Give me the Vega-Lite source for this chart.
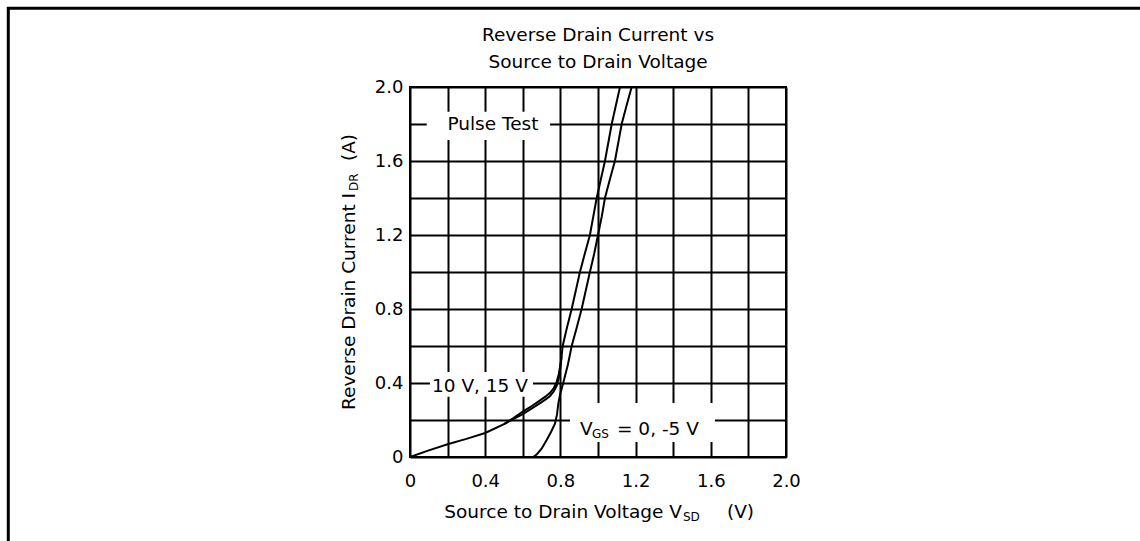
{
  "$schema": "https://vega.github.io/schema/vega-lite/v6.json",
  "width": 376,
  "height": 370,
  "autosize": {"type": "none"},
  "padding": {"left": 410, "top": 87, "right": 354, "bottom": 84},
  "background": "white",
  "config": {
    "view": {"stroke": "black", "strokeWidth": 2},
    "font": "DejaVu Sans",
    "text": {"font": "DejaVu Sans", "color": "black"}
  },
  "encoding": {
    "x": {
      "field": "x", "type": "quantitative",
      "scale": {"domain": [0, 2], "nice": false, "zero": false},
      "axis": {
        "values": [0, 0.2, 0.4, 0.6, 0.8, 1.0, 1.2, 1.4, 1.6, 1.8, 2.0],
        "grid": true, "gridColor": "black", "gridWidth": 2, "gridOpacity": 1,
        "domain": false, "ticks": false,
        "labelExpr": "round(datum.value*10) % 4 == 0 ? (datum.value == 0 ? '0' : format(datum.value, '.1f')) : ''",
        "labelFont": "DejaVu Sans", "labelFontSize": 18, "labelColor": "black",
        "labelPadding": 15, "labelFlush": false, "labelOverlap": false,
        "title": null
      }
    },
    "y": {
      "field": "y", "type": "quantitative",
      "scale": {"domain": [0, 2], "nice": false, "zero": false},
      "axis": {
        "values": [0, 0.2, 0.4, 0.6, 0.8, 1.0, 1.2, 1.4, 1.6, 1.8, 2.0],
        "grid": true, "gridColor": "black", "gridWidth": 2, "gridOpacity": 1,
        "domain": false, "ticks": false,
        "labelExpr": "round(datum.value*10) % 4 == 0 ? (datum.value == 0 ? '0' : format(datum.value, '.1f')) : ''",
        "labelFont": "DejaVu Sans", "labelFontSize": 18, "labelColor": "black",
        "labelPadding": 7, "labelFlush": false, "labelOverlap": false,
        "title": null
      }
    }
  },
  "layer": [
    {
      "data": {"values": [
        {"x": 0.089, "x2": 0.745, "y": 1.714, "y2": 1.866},
        {"x": 0.106, "x2": 0.654, "y": 0.326, "y2": 0.459},
        {"x": 0.851, "x2": 1.622, "y": 0.081, "y2": 0.292}
      ]},
      "mark": {"type": "rect", "fill": "white"},
      "encoding": {
        "x2": {"field": "x2"},
        "y2": {"field": "y2"}
      }
    },
    {
      "data": {"values": [
        {"series": "10 V", "x": 0, "y": 0},
        {"series": "10 V", "x": 0.1, "y": 0.036},
        {"series": "10 V", "x": 0.2, "y": 0.069},
        {"series": "10 V", "x": 0.3, "y": 0.098},
        {"series": "10 V", "x": 0.4, "y": 0.13},
        {"series": "10 V", "x": 0.5, "y": 0.178},
        {"series": "10 V", "x": 0.6, "y": 0.232},
        {"series": "10 V", "x": 0.69, "y": 0.29},
        {"series": "10 V", "x": 0.72, "y": 0.31},
        {"series": "10 V", "x": 0.745, "y": 0.33},
        {"series": "10 V", "x": 0.765, "y": 0.355},
        {"series": "10 V", "x": 0.78, "y": 0.385},
        {"series": "10 V", "x": 0.792, "y": 0.43},
        {"series": "10 V", "x": 0.8, "y": 0.48},
        {"series": "10 V", "x": 0.806, "y": 0.54},
        {"series": "10 V", "x": 0.812, "y": 0.6},
        {"series": "10 V", "x": 0.835, "y": 0.7},
        {"series": "10 V", "x": 0.86, "y": 0.8},
        {"series": "10 V", "x": 0.882, "y": 0.9},
        {"series": "10 V", "x": 0.904, "y": 1.0},
        {"series": "10 V", "x": 0.93, "y": 1.1},
        {"series": "10 V", "x": 0.957, "y": 1.2},
        {"series": "10 V", "x": 0.975, "y": 1.3},
        {"series": "10 V", "x": 0.993, "y": 1.4},
        {"series": "10 V", "x": 1.015, "y": 1.5},
        {"series": "10 V", "x": 1.037, "y": 1.6},
        {"series": "10 V", "x": 1.055, "y": 1.7},
        {"series": "10 V", "x": 1.073, "y": 1.8},
        {"series": "10 V", "x": 1.095, "y": 1.9},
        {"series": "10 V", "x": 1.117, "y": 2.0},
        {"series": "15 V", "x": 0.5, "y": 0.178},
        {"series": "15 V", "x": 0.55, "y": 0.21},
        {"series": "15 V", "x": 0.6, "y": 0.245},
        {"series": "15 V", "x": 0.65, "y": 0.277},
        {"series": "15 V", "x": 0.69, "y": 0.305},
        {"series": "15 V", "x": 0.72, "y": 0.326},
        {"series": "15 V", "x": 0.745, "y": 0.347},
        {"series": "15 V", "x": 0.765, "y": 0.373},
        {"series": "15 V", "x": 0.78, "y": 0.405},
        {"series": "15 V", "x": 0.792, "y": 0.45},
        {"series": "15 V", "x": 0.8, "y": 0.5},
        {"series": "15 V", "x": 0.806, "y": 0.54},
        {"series": "0 V", "x": 0.656, "y": 0},
        {"series": "0 V", "x": 0.675, "y": 0.015},
        {"series": "0 V", "x": 0.7, "y": 0.045},
        {"series": "0 V", "x": 0.727, "y": 0.092},
        {"series": "0 V", "x": 0.75, "y": 0.135},
        {"series": "0 V", "x": 0.771, "y": 0.18},
        {"series": "0 V", "x": 0.782, "y": 0.23},
        {"series": "0 V", "x": 0.789, "y": 0.29},
        {"series": "0 V", "x": 0.8, "y": 0.345},
        {"series": "0 V", "x": 0.815, "y": 0.4},
        {"series": "0 V", "x": 0.84, "y": 0.5},
        {"series": "0 V", "x": 0.86, "y": 0.6},
        {"series": "0 V", "x": 0.887, "y": 0.7},
        {"series": "0 V", "x": 0.913, "y": 0.8},
        {"series": "0 V", "x": 0.935, "y": 0.9},
        {"series": "0 V", "x": 0.957, "y": 1.0},
        {"series": "0 V", "x": 0.98, "y": 1.1},
        {"series": "0 V", "x": 1.0, "y": 1.2},
        {"series": "0 V", "x": 1.02, "y": 1.3},
        {"series": "0 V", "x": 1.037, "y": 1.4},
        {"series": "0 V", "x": 1.063, "y": 1.5},
        {"series": "0 V", "x": 1.09, "y": 1.6},
        {"series": "0 V", "x": 1.108, "y": 1.7},
        {"series": "0 V", "x": 1.126, "y": 1.8},
        {"series": "0 V", "x": 1.152, "y": 1.9},
        {"series": "0 V", "x": 1.179, "y": 2.0}
      ]},
      "mark": {"type": "line", "stroke": "black", "strokeWidth": 2},
      "encoding": {
        "detail": {"field": "series", "type": "nominal"}
      }
    },
    {
      "data": {"values": [
        {"x": 0.441, "y": 1.8, "t": "Pulse Test"},
        {"x": 0.372, "y": 0.384, "t": "10 V, 15 V"},
        {"x": 1.0, "y": 2.281, "t": "Reverse Drain Current vs"},
        {"x": 1.0, "y": 2.135, "t": "Source to Drain Voltage"}
      ]},
      "mark": {"type": "text", "align": "center", "baseline": "middle", "fontSize": 18.5, "font": "DejaVu Sans", "color": "black"},
      "encoding": {
        "text": {"field": "t"}
      }
    },
    {
      "data": {"values": [
        {"x": 0.904, "y": 0.153, "t": "V"},
        {"x": 1.101, "y": 0.153, "t": "= 0, -5 V"},
        {"x": 1.686, "y": -0.297, "t": "(V)"}
      ]},
      "mark": {"type": "text", "align": "left", "baseline": "middle", "fontSize": 18.5, "font": "DejaVu Sans", "color": "black"},
      "encoding": {
        "text": {"field": "t"}
      }
    },
    {
      "data": {"values": [
        {"x": 1.447, "y": -0.297, "t": "Source to Drain Voltage V"}
      ]},
      "mark": {"type": "text", "align": "right", "baseline": "middle", "fontSize": 18.5, "font": "DejaVu Sans", "color": "black"},
      "encoding": {
        "text": {"field": "t"}
      }
    },
    {
      "data": {"values": [
        {"x": 0.968, "y": 0.153, "t": "GS"},
        {"x": 1.452, "y": -0.297, "t": "SD"}
      ]},
      "mark": {"type": "text", "align": "left", "baseline": "middle", "fontSize": 12, "dy": 5, "font": "DejaVu Sans", "color": "black"},
      "encoding": {
        "text": {"field": "t"}
      }
    },
    {
      "data": {"values": [
        {"x": -0.324, "y": 1.427, "t": "Reverse Drain Current  I"}
      ]},
      "mark": {"type": "text", "align": "right", "baseline": "middle", "angle": 270, "fontSize": 18.5, "font": "DejaVu Sans", "color": "black"},
      "encoding": {
        "text": {"field": "t"}
      }
    },
    {
      "data": {"values": [
        {"x": -0.324, "y": 1.6, "t": "(A)"}
      ]},
      "mark": {"type": "text", "align": "left", "baseline": "middle", "angle": 270, "fontSize": 18.5, "font": "DejaVu Sans", "color": "black"},
      "encoding": {
        "text": {"field": "t"}
      }
    },
    {
      "data": {"values": [
        {"x": -0.324, "y": 1.438, "t": "DR"}
      ]},
      "mark": {"type": "text", "align": "left", "baseline": "middle", "angle": 270, "fontSize": 12, "dy": 5, "font": "DejaVu Sans", "color": "black"},
      "encoding": {
        "text": {"field": "t"}
      }
    },
    {
      "data": {"values": [
        {"x": -2.144, "x2": 3.883, "y": 2.4254, "y2": 2.4254},
        {"x": -2.1367, "x2": -2.1367, "y": 2.433, "y2": -0.46}
      ]},
      "mark": {"type": "rule", "stroke": "black", "strokeWidth": 3},
      "encoding": {
        "x2": {"field": "x2"},
        "y2": {"field": "y2"}
      }
    }
  ]
}
